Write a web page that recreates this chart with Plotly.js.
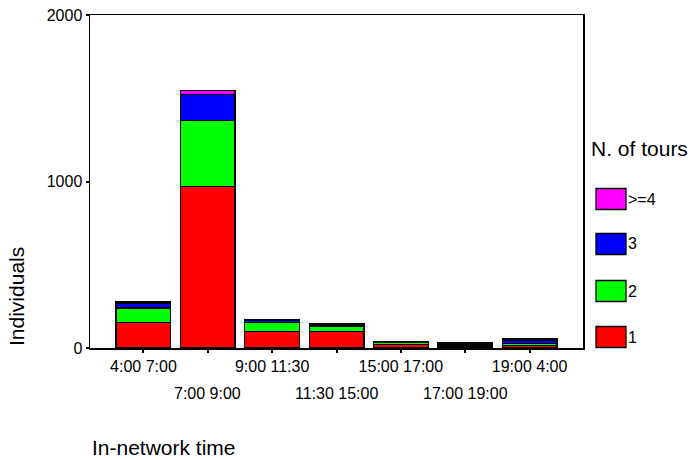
<!DOCTYPE html>
<html>
<head>
<meta charset="utf-8">
<script src="https://cdn.plot.ly/plotly-3.0.1.min.js"></script>
<style>html,body{margin:0;padding:0;background:#fff;}#chart{width:692px;height:460px;}</style>
</head>
<body>
<div id="chart"></div>
<script>
// ---- data ----
const categories = ['4:00 7:00','7:00 9:00','9:00 11:30','11:30 15:00','15:00 17:00','17:00 19:00','19:00 4:00'];
const tours1 = [155, 970, 100, 100, 22, 10, 16];
const tours2 = [85, 398, 52, 33, 10, 8, 12];
const tours3 = [30, 154, 13, 10, 5, 7, 16];
const tours4 = [8, 24, 6, 5, 3, 5, 10];
const seriesNames = ['1', '2', '3', '>=4'];
const seriesColors = ['#ff0000', '#00ff00', '#0000ff', '#ff00ff'];
const yTickVals = [0, 1000, 2000];
const yTickText = ['0', '1000', '2000'];

const seriesValues = [tours1, tours2, tours3, tours4];
const FONT = '"Liberation Sans", Arial, sans-serif';

const traces = seriesValues.map((vals, i) => ({
  type: 'bar',
  x: categories,
  y: vals,
  name: seriesNames[i],
  marker: {color: seriesColors[i], line: {color: '#000', width: 1.3}},
  showlegend: false,
  hoverinfo: 'skip'
}));

// plot area in pixels (for placing legend/titles)
const W = 692, H = 460;
const L = 90, R = 583, T = 15, B = 348;
const px = x => (x - L) / (R - L);
const py = y => (B - y) / (B - T);

const shapes = [];
const annotations = [];

// second row of alternating category labels
categories.forEach((c, i) => {
  if (i % 2 === 1) {
    annotations.push({
      xref: 'x', yref: 'paper', x: c, y: 0, yshift: -45,
      text: c, showarrow: false, xanchor: 'center', yanchor: 'middle',
      font: {family: FONT, size: 16, color: '#000'}
    });
  }
});

// custom legend (top to bottom: >=4, 3, 2, 1)
const legendY = [199, 244, 291, 337];
for (let k = 0; k < seriesNames.length; k++) {
  const idx = seriesNames.length - 1 - k;
  const cy = legendY[k];
  shapes.push({
    type: 'rect', xref: 'paper', yref: 'paper',
    x0: px(596), x1: px(626), y0: py(cy + 10.5), y1: py(cy - 10.5),
    fillcolor: seriesColors[idx], line: {color: '#000', width: 1.3}
  });
  annotations.push({
    xref: 'paper', yref: 'paper', x: px(626), y: py(cy),
    text: seriesNames[idx], showarrow: false, xanchor: 'left', yanchor: 'middle',
    font: {family: FONT, size: 16, color: '#000'}
  });
}
annotations.push({
  xref: 'paper', yref: 'paper', x: px(589), y: py(148),
  text: 'N. of tours', showarrow: false, xanchor: 'left', yanchor: 'middle',
  font: {family: FONT, size: 21, color: '#000'}
});
// axis titles
annotations.push({
  xref: 'paper', yref: 'paper', x: px(16), y: py(297),
  text: 'Individuals', showarrow: false, textangle: -90, xanchor: 'center', yanchor: 'middle',
  font: {family: FONT, size: 21, color: '#000'}
});
annotations.push({
  xref: 'paper', yref: 'paper', x: px(90), y: py(447),
  text: 'In-network time', showarrow: false, xanchor: 'left', yanchor: 'middle',
  font: {family: FONT, size: 21, color: '#000'}
});

const layout = {
  width: W, height: H,
  margin: {l: L, r: W - R, t: T, b: H - B, pad: 0},
  paper_bgcolor: '#fff', plot_bgcolor: '#fff',
  barmode: 'stack', bargap: 0.15,
  showlegend: false,
  font: {family: FONT, color: '#000'},
  xaxis: {
    type: 'category', range: [-0.83, 6.83],
    tickvals: categories,
    ticktext: categories.map((c, i) => i % 2 === 0 ? c : ''),
    ticks: 'outside', ticklen: 3, tickwidth: 2, tickcolor: '#000',
    showline: true, linecolor: '#000', linewidth: 1.5, mirror: true,
    showgrid: false, zeroline: false,
    tickfont: {family: FONT, size: 16, color: '#000'}
  },
  yaxis: {
    range: [0, 2000], tickvals: yTickVals, ticktext: yTickText,
    ticks: 'outside', ticklen: 3, tickwidth: 2, tickcolor: '#000',
    showline: true, linecolor: '#000', linewidth: 1.5, mirror: true,
    showgrid: false, zeroline: false,
    tickfont: {family: FONT, size: 16, color: '#000'}
  },
  shapes: shapes,
  annotations: annotations
};

Plotly.newPlot('chart', traces, layout, {displayModeBar: false, staticPlot: true});
</script>
</body>
</html>
